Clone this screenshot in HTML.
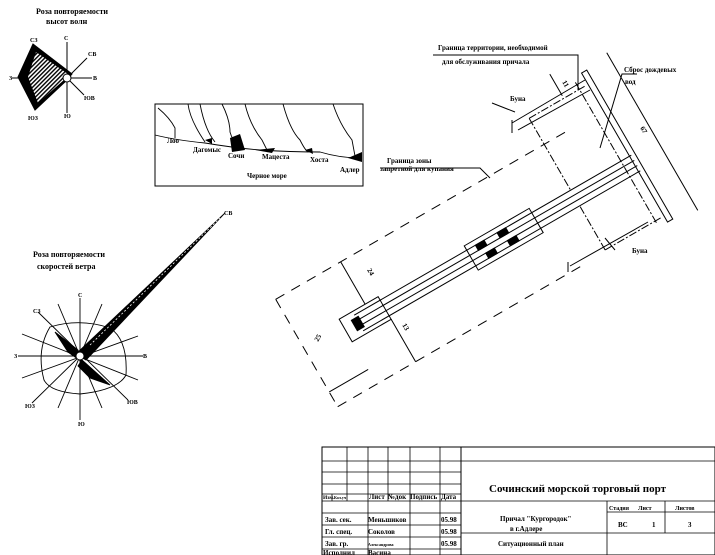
<!DOCTYPE html>
<html><head><meta charset="utf-8"><style>
html,body{margin:0;padding:0;background:#fff}
svg{display:block}
text{font-family:"Liberation Serif","Noto Serif CJK SC",serif;fill:#000;font-weight:bold}
</style></head><body>
<svg width="715" height="555" viewBox="0 0 715 555" xmlns="http://www.w3.org/2000/svg">
<defs>
<pattern id="h" width="3" height="3" patternUnits="userSpaceOnUse" patternTransform="rotate(45)"><rect width="3" height="3" fill="#fff"/><rect width="1.4" height="3" fill="#000"/></pattern>
</defs>
<!-- wave rose -->
<text x="36" y="14" font-size="8">Роза повторяемости</text>
<text x="46" y="24" font-size="8">высот волн</text>
<g stroke="#000" fill="none">
<line x1="67" y1="42" x2="67" y2="113"/>
<line x1="12" y1="78" x2="92" y2="78"/>
<line x1="67" y1="78" x2="87" y2="58"/>
<line x1="67" y1="78" x2="84" y2="95"/>
<polygon points="33,44 18,77 35,110 67,80 72,74" fill="#000"/>
<polygon points="36,52 28,77 38,103 65,79 68,74" fill="url(#h)" stroke="none"/>
<circle cx="67" cy="78" r="4" fill="#fff"/>
</g>
<g font-size="6"><text x="64" y="40">С</text><text x="30" y="42">СЗ</text><text x="88" y="56">СВ</text><text x="9" y="80">З</text><text x="93" y="80">В</text><text x="28" y="120">ЮЗ</text><text x="84" y="100">ЮВ</text><text x="64" y="118">Ю</text></g>

<!-- map -->
<rect x="155" y="104" width="208" height="82" fill="none" stroke="#000"/>
<g stroke="#000" fill="none" stroke-width="0.9">
<path d="M155,135 Q175,140 205,143 Q235,148 260,150 Q290,152 320,152 Q340,158 360,158"/>
<path d="M158,108 Q170,118 175,128 L175,138"/><path d="M188,104 Q190,120 205,142"/><path d="M200,104 Q205,130 215,142"/>
<path d="M222,104 Q230,120 230,132 Q232,140 240,148"/><path d="M245,104 Q250,125 262,140 L268,152"/>
<path d="M283,104 Q290,130 300,140 Q305,150 308,152"/><path d="M333,104 Q340,125 352,140 L355,156"/>
</g>
<g fill="#000"><path d="M230,138 L240,134 L245,150 L232,152Z"/><path d="M255,150 L275,148 L272,153Z"/><path d="M305,150 L312,148 L313,154Z"/><path d="M348,158 L362,152 L362,162Z"/><path d="M205,140 L212,138 L212,144Z"/></g>
<g font-size="7"><text x="167" y="143">Лоо</text><text x="193" y="152">Дагомыс</text><text x="228" y="158">Сочи</text><text x="262" y="159">Мацеста</text><text x="310" y="162">Хоста</text><text x="340" y="172">Адлер</text><text x="247" y="178">Черное море</text></g>

<!-- wind rose -->
<text x="33" y="257" font-size="8">Роза повторяемости</text>
<text x="37" y="269" font-size="8">скоростей ветра</text>
<g stroke="#000" fill="none" stroke-width="0.9">
<line x1="80" y1="298" x2="80" y2="420"/><line x1="18" y1="356" x2="143" y2="356"/>
<line x1="38" y1="312" x2="128" y2="400"/><line x1="32" y1="403" x2="80" y2="356"/>
<line x1="22" y1="334" x2="138" y2="380"/><line x1="22" y1="378" x2="138" y2="336"/>
<line x1="58" y1="304" x2="102" y2="408"/><line x1="102" y1="304" x2="58" y2="408"/>
<path d="M50,327 Q80,318 110,328 Q128,340 126,375 Q118,390 80,394 Q50,392 44,380 Q36,350 50,327Z"/>
<polygon points="55,332 78,350 82,362 68,352" fill="#000"/>
<polygon points="82,360 110,385 90,378 78,366" fill="#000"/>
<polygon points="76,354 225,213 86,360" fill="#000"/>
<line x1="90" y1="345" x2="220" y2="218" stroke="#fff" stroke-dasharray="2,2" stroke-width="0.8"/>
<circle cx="80" cy="356" r="4" fill="#fff"/>
</g>
<g font-size="6"><text x="78" y="297">С</text><text x="33" y="313">СЗ</text><text x="224" y="215">СВ</text><text x="14" y="358">З</text><text x="143" y="358">В</text><text x="25" y="408">ЮЗ</text><text x="127" y="404">ЮВ</text><text x="78" y="426">Ю</text></g>

<!-- pier -->
<g transform="translate(350,328) rotate(-30)" stroke="#000" fill="none" stroke-width="1">
<rect x="-5" y="-13" width="45" height="26"/>
<rect x="140" y="-14" width="75" height="28"/>
<line x1="10" y1="-9" x2="330" y2="-9"/><line x1="10" y1="-3" x2="330" y2="-3"/>
<line x1="10" y1="3" x2="330" y2="3"/><line x1="10" y1="9" x2="330" y2="9"/>
<rect x="5" y="-6" width="8" height="12" fill="#000"/>
<rect x="150" y="-9" width="10" height="6" fill="#000"/><rect x="175" y="-9" width="10" height="6" fill="#000"/>
<rect x="155" y="3" width="10" height="6" fill="#000"/><rect x="180" y="3" width="10" height="6" fill="#000"/>
<rect x="328" y="-105" width="6" height="172"/>
<line x1="260" y1="-92" x2="325" y2="-92" stroke-dasharray="8,2,2,2"/>
<line x1="260" y1="60" x2="325" y2="60" stroke-dasharray="8,2,2,2"/>
<line x1="260" y1="-92" x2="260" y2="-10" stroke-dasharray="8,2,2,2"/>
<line x1="260" y1="10" x2="260" y2="60" stroke-dasharray="8,2,2,2"/>
<line x1="318" y1="-100" x2="318" y2="62" stroke-dasharray="8,2,2,2"/>
<line x1="360" y1="-110" x2="360" y2="72"/>
<line x1="-50" y1="-62" x2="290" y2="-62" stroke-dasharray="10,8"/>
<line x1="-50" y1="62" x2="230" y2="62" stroke-dasharray="10,8"/>
<line x1="-50" y1="-62" x2="-50" y2="62" stroke-dasharray="10,8"/>
<line x1="-50" y1="45" x2="-5" y2="45"/>
<line x1="25" y1="-62" x2="25" y2="-13"/>
<line x1="40" y1="13" x2="40" y2="62"/>
<line x1="300" y1="-95" x2="300" y2="-120"/>
</g>
<g font-size="7">
<text x="318" y="342" transform="rotate(-60 318 342)">25</text>
<text x="367" y="270" transform="rotate(60 367 270)">24</text>
<text x="402" y="325" transform="rotate(60 402 325)">13</text>
<text x="640" y="128" transform="rotate(60 640 128)">67</text>
<text x="562" y="82" transform="rotate(60 562 82)">11</text>
</g>
<!-- groins -->
<g stroke="#000" fill="none">
<line x1="512" y1="123" x2="585" y2="80"/><line x1="518" y1="130" x2="590" y2="90"/><line x1="512" y1="120" x2="512" y2="133"/>
<line x1="570" y1="266" x2="648" y2="222"/><line x1="568" y1="262" x2="568" y2="272"/>
<polyline points="433,55 578,55 578,90"/>
<polyline points="637,74 622,74 600,148"/>
<polyline points="380,168 480,168 490,178"/>
<line x1="492" y1="103" x2="515" y2="112"/>
<line x1="615" y1="250" x2="605" y2="238"/>
</g>
<g font-size="7">
<text x="438" y="50">Граница территории, необходимой</text>
<text x="442" y="64">для обслуживания причала</text>
<text x="624" y="72">Сброс дождевых</text>
<text x="625" y="84">вод</text>
<text x="510" y="101">Буна</text>
<text x="632" y="253">Буна</text>
<text x="387" y="163">Граница зоны</text>
<text x="380" y="171">запретной для купания</text>
</g>

<!-- title block -->
<g stroke="#000" fill="none" stroke-width="1">
<rect x="322" y="447" width="393" height="108"/>
<line x1="461" y1="447" x2="461" y2="555"/>
<g stroke-width="0.8">
<line x1="322" y1="461" x2="715" y2="461"/><line x1="322" y1="472" x2="461" y2="472"/><line x1="322" y1="484" x2="461" y2="484"/>
<line x1="322" y1="494" x2="461" y2="494"/><line x1="322" y1="501" x2="715" y2="501"/>
<line x1="322" y1="513" x2="461" y2="513"/><line x1="322" y1="525" x2="461" y2="525"/><line x1="322" y1="537" x2="461" y2="537"/><line x1="322" y1="549" x2="461" y2="549"/>
<line x1="347" y1="447" x2="347" y2="501"/><line x1="368" y1="447" x2="368" y2="555"/><line x1="388" y1="447" x2="388" y2="501"/>
<line x1="410" y1="447" x2="410" y2="555"/><line x1="440" y1="447" x2="440" y2="555"/>
<line x1="332" y1="494" x2="332" y2="501"/>
<line x1="607" y1="501" x2="607" y2="555"/><line x1="607" y1="512" x2="715" y2="512"/><line x1="607" y1="533" x2="715" y2="533"/>
<line x1="665" y1="501" x2="665" y2="533"/><line x1="461" y1="533" x2="607" y2="533"/>
</g></g>
<g font-size="7">
<text x="323" y="499" font-size="5.5">Изм.</text><text x="334" y="499" font-size="4">Кол.уч</text><text x="369" y="499">Лист</text><text x="388" y="499">№док</text><text x="410" y="499">Подпись</text><text x="441" y="499">Дата</text>
<text x="325" y="522">Зав. сек.</text><text x="368" y="522">Меньшиков</text><text x="441" y="522">05.98</text>
<text x="325" y="534">Гл. спец.</text><text x="368" y="534">Соколов</text><text x="441" y="534">05.98</text>
<text x="325" y="546">Зав. гр.</text><text x="368" y="546" font-size="4">Александрова</text><text x="441" y="546">05.98</text>
<text x="323" y="555">Исполнил</text><text x="368" y="555">Васина</text>
<text x="489" y="492" font-size="11" font-weight="normal">Сочинский морской торговый порт</text>
<text x="500" y="521">Причал "Кургородок"</text>
<text x="510" y="531">в г.Адлере</text>
<text x="498" y="546">Ситуационный план</text>
<text x="609" y="510" font-size="6">Стадия</text><text x="638" y="510" font-size="6">Лист</text><text x="675" y="510" font-size="6">Листов</text>
<text x="618" y="527">ВС</text><text x="652" y="527">1</text><text x="688" y="527">3</text>
</g>
</svg>
</body></html>
